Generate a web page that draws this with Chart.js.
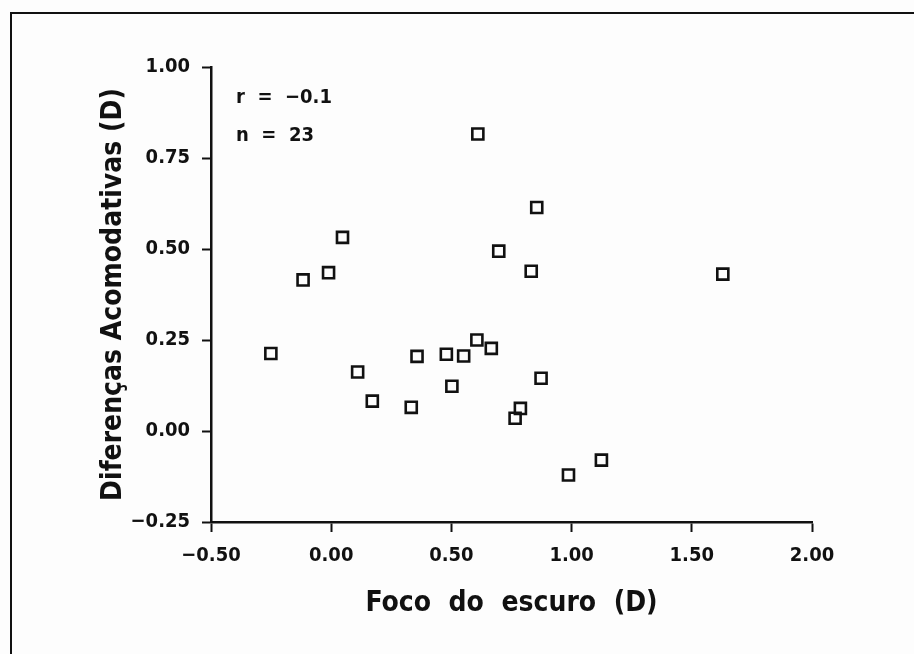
<!DOCTYPE html>
<html>
<head>
<meta charset="utf-8">
<title>Foco do escuro x Diferenças Acomodativas</title>
<script src="https://cdn.jsdelivr.net/npm/chart.js@4/dist/chart.umd.min.js"></script>
<style>
  html, body { margin: 0; padding: 0; background: #fdfdfd; }
  #wrap { position: relative; width: 914px; height: 654px; }
  #frame {
    position: absolute; left: 10px; top: 12px; right: 0; bottom: 0;
    border-top: 2px solid #111; border-left: 2px solid #111;
    pointer-events: none;
  }
  canvas { position: absolute; left: 0; top: 0; }
</style>
</head>
<body>
<div id="wrap">
  <canvas id="scatter" width="914" height="654"></canvas>
  <div id="frame"></div>
</div>
<script>
// Values
const focoEscuro = [0.61, 0.855, 0.697, 0.832, 1.629, 0.606, 0.551, 0.666, 0.479, 0.502, 0.873, 0.787,
  0.765, 1.124, 0.987, -0.251, 0.11, 0.171, 0.333, 0.357, 0.047, -0.011, -0.117];
const diferencas = [0.816, 0.614, 0.494, 0.439, 0.431, 0.25, 0.206, 0.227, 0.211, 0.123, 0.145, 0.062,
  0.035, -0.08, -0.121, 0.213, 0.162, 0.082, 0.065, 0.205, 0.532, 0.435, 0.415];

const xTicks = [-0.5, 0, 0.5, 1, 1.5, 2];
const xTickLabels = ['−0.50', '0.00', '0.50', '1.00', '1.50', '2.00'];
const yTicks = [-0.25, 0, 0.25, 0.5, 0.75, 1];
const yTickLabels = ['−0.25', '0.00', '0.25', '0.50', '0.75', '1.00'];

const statsText = ['r  =  −0.1', 'n  =  23'];

const FAMILY = "'DejaVu Sans Condensed', 'DejaVu Sans', sans-serif";

const points = focoEscuro.map((x, i) => ({ x: x, y: diferencas[i] }));

// writes r and n in the upper left corner of the plot
const statsPlugin = {
  id: 'stats',
  afterDraw(chart) {
    const ctx = chart.ctx;
    ctx.save();
    ctx.fillStyle = '#111';
    ctx.font = 'bold 20px ' + FAMILY;
    ctx.textBaseline = 'alphabetic';
    ctx.textAlign = 'left';
    ctx.fillText(statsText[0], 236, 103);
    ctx.fillText(statsText[1], 236, 141);
    ctx.restore();
  }
};

const ctx = document.getElementById('scatter').getContext('2d');
new Chart(ctx, {
  type: 'scatter',
  data: {
    datasets: [{
      data: points,
      pointStyle: 'rect',
      pointRadius: 7.8,
      pointHoverRadius: 7.8,
      pointBorderWidth: 2.6,
      borderColor: '#111',
      backgroundColor: 'rgba(0,0,0,0)',
    }],
  },
  options: {
    responsive: false,
    animation: false,
    events: [],
    layout: { padding: { top: 67, right: 102, bottom: 0, left: 0 } },
    plugins: {
      legend: { display: false },
      tooltip: { enabled: false },
    },
    scales: {
      x: {
        type: 'linear',
        min: -0.5,
        max: 2,
        afterBuildTicks: (axis) => { axis.ticks = xTicks.map((v) => ({ value: v })); },
        afterFit: (axis) => { axis.height = 132; },
        ticks: {
          color: '#111',
          font: { family: FAMILY, size: 20, weight: 'bold' },
          padding: 12,
          maxRotation: 0,
          callback: (v) => xTickLabels[xTicks.indexOf(v)],
        },
        grid: { drawOnChartArea: false, drawTicks: true, tickLength: 10, tickWidth: 2, tickColor: '#111' },
        border: { display: true, color: '#111', width: 2.5 },
        title: {
          display: true,
          text: 'Foco  do  escuro  (D)',
          color: '#111',
          font: { family: FAMILY, size: 28, weight: 'bold' },
          padding: { top: 0, bottom: 33 },
        },
      },
      y: {
        type: 'linear',
        min: -0.25,
        max: 1,
        afterBuildTicks: (axis) => { axis.ticks = yTicks.map((v) => ({ value: v })); },
        afterFit: (axis) => { axis.width = 211; },
        ticks: {
          color: '#111',
          font: { family: FAMILY, size: 20, weight: 'bold' },
          padding: 12,
          callback: (v) => yTickLabels[yTicks.indexOf(v)],
        },
        grid: { drawOnChartArea: false, drawTicks: true, tickLength: 9, tickWidth: 2, tickColor: '#111' },
        border: { display: true, color: '#111', width: 2.5 },
        title: {
          display: true,
          text: 'Diferenças Acomodativas (D)',
          color: '#111',
          font: { family: FAMILY, size: 28, weight: 'bold' },
          padding: { top: 97, bottom: 0 },
        },
      },
    },
  },
  plugins: [statsPlugin],
});
</script>
</body>
</html>
